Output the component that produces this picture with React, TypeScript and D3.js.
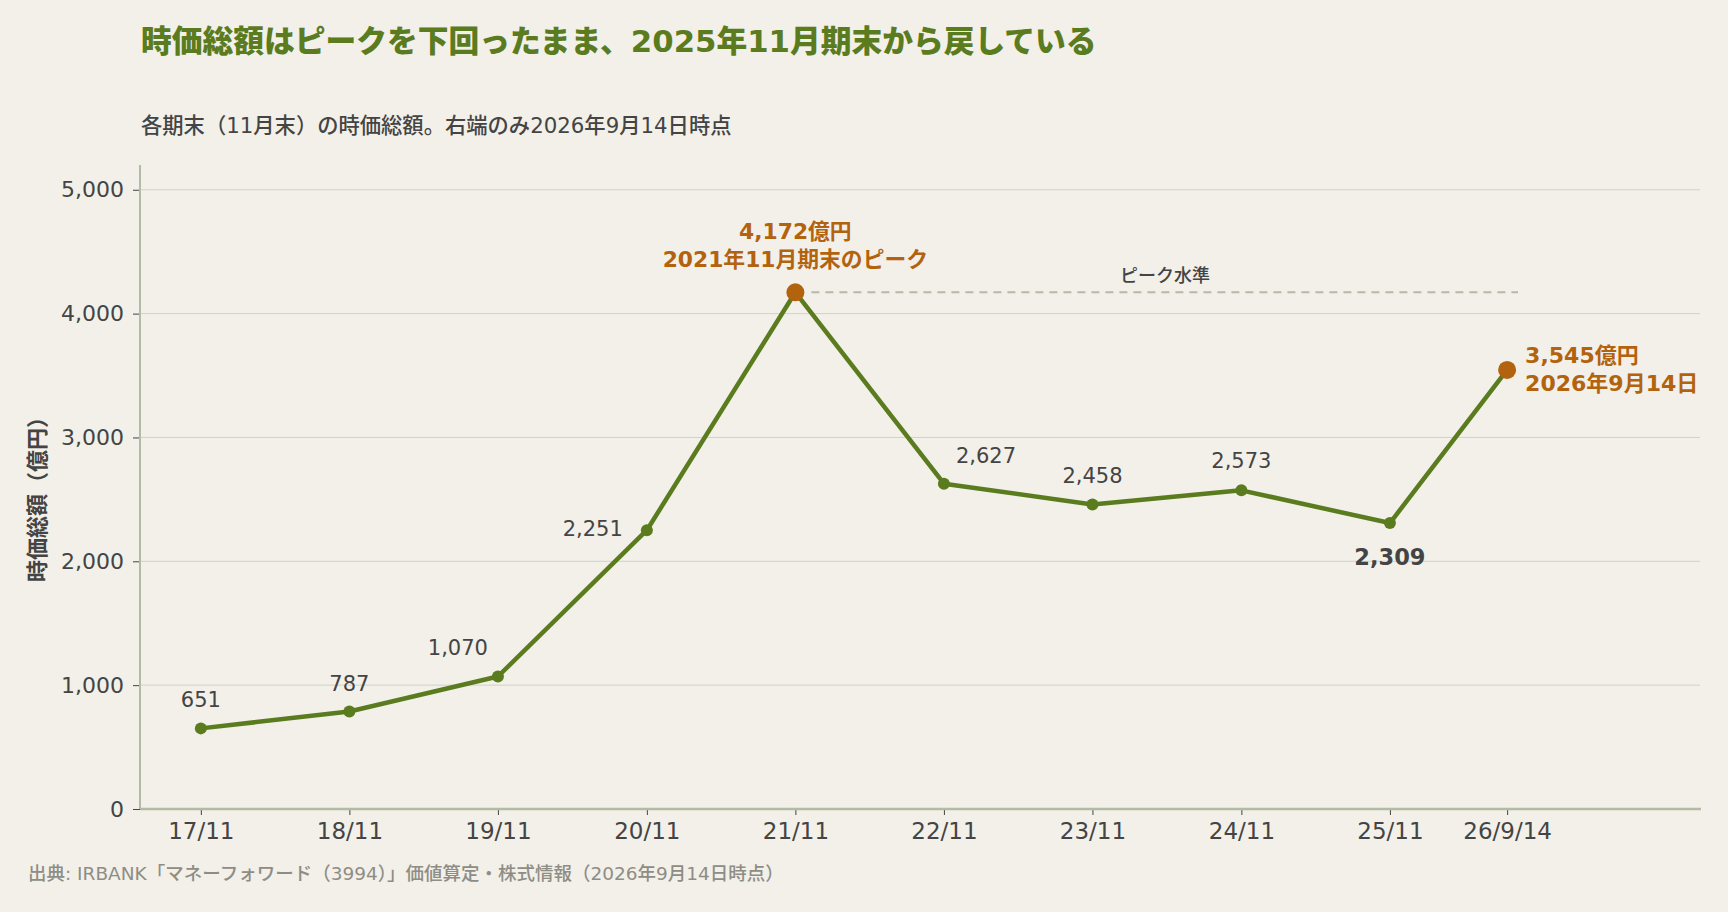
import { useEffect, useRef } from "react";
import * as d3 from "d3";

// 各期末（11月末）の時価総額（億円）。右端のみ 2026-09-14 時点
const periodDates = [
  "2017-11-30", "2018-11-30", "2019-11-30", "2020-11-30", "2021-11-30",
  "2022-11-30", "2023-11-30", "2024-11-30", "2025-11-30", "2026-09-14",
];
const tickLabels = ["17/11", "18/11", "19/11", "20/11", "21/11", "22/11", "23/11", "24/11", "25/11", "26/9/14"];
const marketCap = [651, 787, 1070, 2251, 4172, 2627, 2458, 2573, 2309, 3545];
const yTicks = [0, 1000, 2000, 3000, 4000, 5000];

const W = 1728;
const H = 912;
const FONT = "'DejaVu Sans', 'Noto Sans CJK JP', sans-serif";
const GREEN = "#5b7b1f";
const ORANGE = "#b3620e";
const DARK = "#444444";
const BG = "#f2f0e9";
const AXIS = "#b3bba5";
const GRID = "#d3d2c7";

const PEAK = 4;
const LAST = 9;
const LOW = 8;

export default function App() {
  const svgRef = useRef<SVGSVGElement>(null);

  useEffect(() => {
    document.body.style.margin = "0";
    document.body.style.background = BG;
    if (!svgRef.current) return;

    const svg = d3.select(svgRef.current);
    svg.selectAll("*").remove();

    const parse = d3.timeParse("%Y-%m-%d");
    const xs = periodDates.map((d) => parse(d)!);

    const x = d3.scaleTime()
      .domain([new Date(2017, 6, 1), new Date(2028, 0, 1)])
      .range([139, 1700]);
    const y = d3.scaleLinear().domain([0, 5200]).range([809, 165]);

    svg.append("rect").attr("width", W).attr("height", H).attr("fill", BG);

    // タイトル
    svg.append("text")
      .attr("x", 141).attr("y", 52)
      .attr("font-size", 30.75).attr("font-weight", 900)
      .attr("fill", GREEN)
      .text("時価総額はピークを下回ったまま、2025年11月期末から戻している");

    svg.append("text")
      .attr("x", 141).attr("y", 133)
      .attr("font-size", 21.3).attr("font-weight", 500)
      .attr("fill", DARK)
      .text("各期末（11月末）の時価総額。右端のみ2026年9月14日時点");

    // グリッド
    svg.append("g")
      .selectAll("line")
      .data(yTicks.filter((t) => t > 0))
      .join("line")
      .attr("x1", 140).attr("x2", 1700)
      .attr("y1", (d) => y(d)).attr("y2", (d) => y(d))
      .attr("stroke", GRID).attr("stroke-width", 1);

    // y軸
    const yAxis = svg.append("g")
      .attr("transform", "translate(140,0)")
      .call(d3.axisLeft(y).tickValues(yTicks).tickSize(7).tickPadding(9).tickFormat((d) => d3.format(",")(d as number)));
    yAxis.select(".domain").remove();
    yAxis.selectAll(".tick line").attr("stroke", DARK);
    yAxis.selectAll(".tick text").attr("fill", DARK).attr("font-size", 22).attr("font-family", FONT);
    svg.append("line")
      .attr("x1", 140).attr("x2", 140).attr("y1", 165).attr("y2", 809)
      .attr("stroke", AXIS).attr("stroke-width", 2);

    // x軸
    const xAxis = svg.append("g")
      .attr("transform", "translate(0,809)")
      .call(d3.axisBottom(x).tickValues(xs).tickSize(6).tickPadding(8).tickFormat((_, i) => tickLabels[i]));
    xAxis.select(".domain").remove();
    xAxis.selectAll(".tick line").attr("stroke", DARK);
    xAxis.selectAll(".tick text").attr("fill", DARK).attr("font-size", 23).attr("font-family", FONT);
    svg.append("line")
      .attr("x1", 140).attr("x2", 1701).attr("y1", 809).attr("y2", 809)
      .attr("stroke", AXIS).attr("stroke-width", 2.5);

    // y軸タイトル
    svg.append("text")
      .attr("transform", "translate(45,494) rotate(-90)")
      .attr("text-anchor", "middle")
      .attr("font-size", 22).attr("font-weight", 700)
      .attr("fill", DARK)
      .text("時価総額（億円）");

    // ピーク水準
    svg.append("line")
      .attr("x1", x(xs[PEAK]) + 16).attr("x2", 1518)
      .attr("y1", y(marketCap[PEAK])).attr("y2", y(marketCap[PEAK]))
      .attr("stroke", AXIS).attr("stroke-width", 2)
      .attr("stroke-dasharray", "8,6");
    svg.append("text")
      .attr("x", 1165).attr("y", 282)
      .attr("text-anchor", "middle")
      .attr("font-size", 18).attr("font-weight", 500)
      .attr("fill", DARK)
      .text("ピーク水準");

    // 折れ線
    const line = d3.line<number>()
      .x((_, i) => x(xs[i]))
      .y((d) => y(d));
    svg.append("path")
      .datum(marketCap)
      .attr("d", line)
      .attr("fill", "none")
      .attr("stroke", GREEN)
      .attr("stroke-width", 4.5)
      .attr("stroke-linejoin", "round");

    svg.append("g")
      .selectAll("circle")
      .data(marketCap)
      .join("circle")
      .attr("cx", (_, i) => x(xs[i]))
      .attr("cy", (d) => y(d))
      .attr("r", (_, i) => (i === PEAK || i === LAST ? 9 : 6))
      .attr("fill", (_, i) => (i === PEAK || i === LAST ? ORANGE : GREEN));

    // 値ラベル
    const fmt = d3.format(",");
    const labelPos: Record<number, { dx: number; dy: number; anchor: string }> = {
      0: { dx: 0, dy: -21, anchor: "middle" },
      1: { dx: 0, dy: -21, anchor: "middle" },
      2: { dx: -10, dy: -21, anchor: "end" },
      3: { dx: -24, dy: 6, anchor: "end" },
      5: { dx: 12, dy: -21, anchor: "start" },
      6: { dx: 0, dy: -22, anchor: "middle" },
      7: { dx: 0, dy: -22, anchor: "middle" },
    };
    Object.entries(labelPos).forEach(([k, p]) => {
      const i = +k;
      svg.append("text")
        .attr("x", x(xs[i]) + p.dx)
        .attr("y", y(marketCap[i]) + p.dy)
        .attr("text-anchor", p.anchor)
        .attr("font-size", 21)
        .attr("fill", DARK)
        .text(fmt(marketCap[i]));
    });

    svg.append("text")
      .attr("x", x(xs[LOW]))
      .attr("y", y(marketCap[LOW]) + 42)
      .attr("text-anchor", "middle")
      .attr("font-size", 22.5).attr("font-weight", 700)
      .attr("fill", DARK)
      .text(fmt(marketCap[LOW]));

    // ピーク注記
    const peak = svg.append("text")
      .attr("text-anchor", "middle")
      .attr("font-size", 21.8).attr("font-weight", 700)
      .attr("fill", ORANGE);
    peak.append("tspan")
      .attr("x", x(xs[PEAK])).attr("y", y(marketCap[PEAK]) - 53)
      .text(`${fmt(marketCap[PEAK])}億円`);
    peak.append("tspan")
      .attr("x", x(xs[PEAK])).attr("y", y(marketCap[PEAK]) - 25)
      .text("2021年11月期末のピーク");

    const last = svg.append("text")
      .attr("font-size", 22).attr("font-weight", 700)
      .attr("fill", ORANGE);
    last.append("tspan")
      .attr("x", x(xs[LAST]) + 18).attr("y", y(marketCap[LAST]) - 7)
      .text(`${fmt(marketCap[LAST])}億円`);
    last.append("tspan")
      .attr("x", x(xs[LAST]) + 18).attr("y", y(marketCap[LAST]) + 21)
      .text("2026年9月14日");

    // 出典
    svg.append("text")
      .attr("x", 28).attr("y", 880)
      .attr("font-size", 18.5).attr("font-weight", 500)
      .attr("fill", "#8e8d85")
      .text("出典: IRBANK「マネーフォワード（3994）」価値算定・株式情報（2026年9月14日時点）");
  }, []);

  return (
    <svg
      ref={svgRef}
      width={W}
      height={H}
      style={{ display: "block", fontFamily: FONT }}
    />
  );
}
